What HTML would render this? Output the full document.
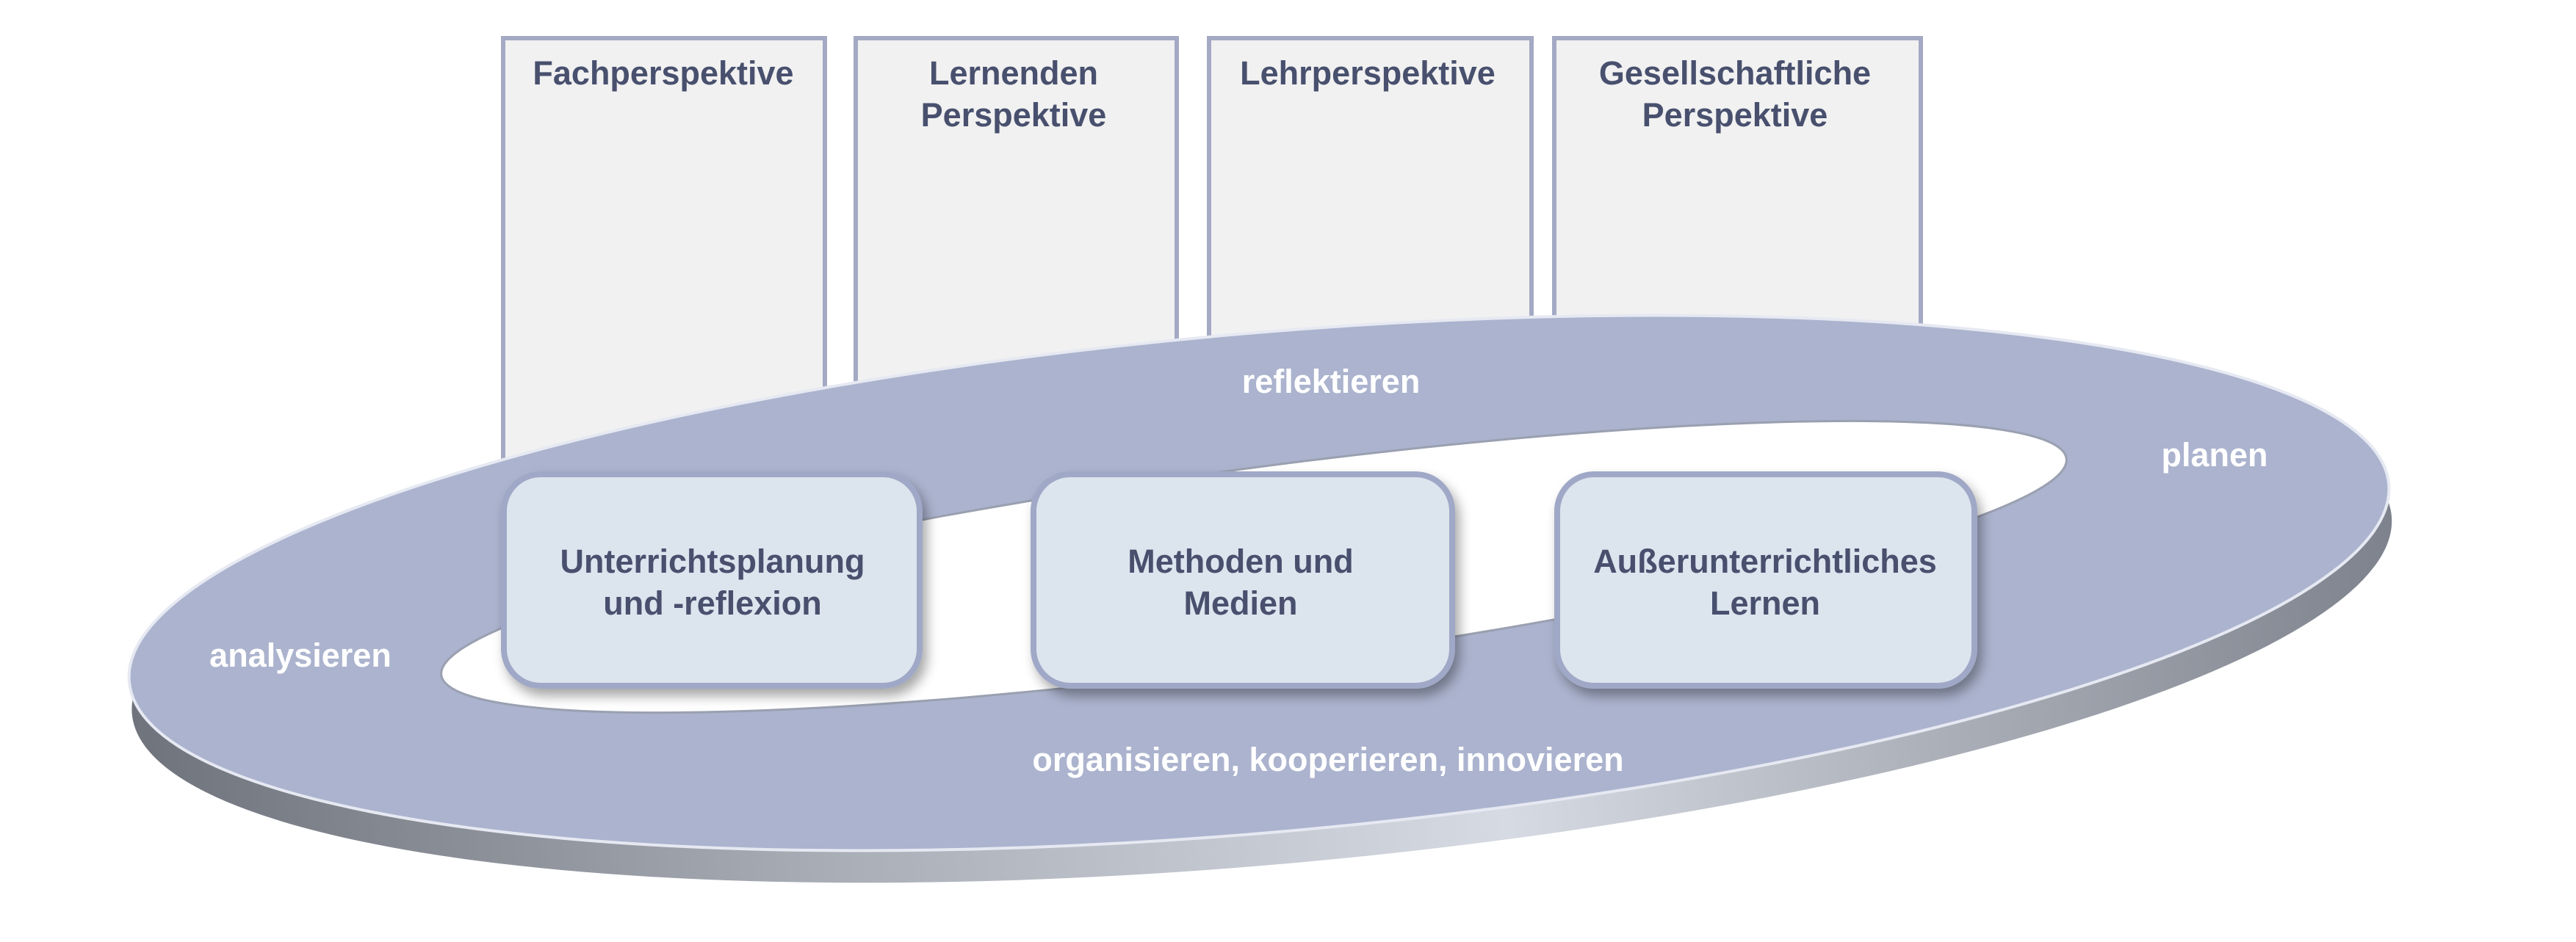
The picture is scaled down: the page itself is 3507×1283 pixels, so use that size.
<!DOCTYPE html>
<html><head><meta charset="utf-8"><style>
html,body{margin:0;padding:0;background:#fff;overflow:hidden;width:3507px;height:1283px}
svg{display:block}
text{font-family:"Liberation Sans",sans-serif;font-weight:bold}
</style></head><body>
<svg width="3507" height="1283" viewBox="0 0 3507 1283" xmlns="http://www.w3.org/2000/svg">
<defs>
<linearGradient id="edge" x1="0" y1="0" x2="1" y2="0">
<stop offset="0" stop-color="#6f737c"/><stop offset="0.3" stop-color="#a9adb6"/><stop offset="0.6" stop-color="#d6dae2"/><stop offset="1" stop-color="#7d828c"/>
</linearGradient>
<filter id="sh" x="-10%" y="-10%" width="125%" height="130%"><feDropShadow dx="6" dy="10" stdDeviation="8" flood-color="#000" flood-opacity="0.35"/></filter>
</defs>
<g fill="#f1f1f1" stroke="#a4a9c4" stroke-width="6">
<rect x="685" y="52" width="438" height="700"/>
<rect x="1165" y="52" width="437" height="700"/>
<rect x="1646" y="52" width="439" height="700"/>
<rect x="2116" y="52" width="499" height="700"/>
</g>
<g fill="#48506e" font-size="45" text-anchor="middle">
<text x="903" y="115">Fachperspektive</text>
<text x="1380" y="115">Lernenden</text><text x="1380" y="172">Perspektive</text>
<text x="1862" y="115">Lehrperspektive</text>
<text x="2362" y="115">Gesellschaftliche</text><text x="2362" y="172">Perspektive</text>
</g>
<g transform="rotate(-5 1714 794)">
<ellipse cx="1714" cy="838" rx="1544" ry="340" fill="url(#edge)"/>
<ellipse cx="1714" cy="794" rx="1544" ry="340" fill="#abb3ce" stroke="#e6e9f2" stroke-width="4"/>
</g>
<g transform="rotate(-7.6 1707 772)">
<ellipse cx="1707" cy="772" rx="1116" ry="134" fill="#fff" stroke="#9aa0b0" stroke-width="3"/>
</g>
<g fill="#fff" font-size="45" text-anchor="middle">
<text x="1812" y="535">reflektieren</text>
<text x="3015" y="635">planen</text>
<text x="409" y="908">analysieren</text>
<text x="1808" y="1050">organisieren, kooperieren, innovieren</text>
</g>
<g fill="#dce4ee" stroke="#9fa8c6" stroke-width="8" filter="url(#sh)">
<rect x="686" y="646" width="566" height="288" rx="50"/>
<rect x="1407" y="646" width="570" height="288" rx="50"/>
<rect x="2120" y="646" width="568" height="288" rx="50"/>
</g>
<g fill="#48506e" font-size="45" text-anchor="middle">
<text x="970" y="780">Unterrichtsplanung</text><text x="970" y="837">und -reflexion</text>
<text x="1689" y="780">Methoden und</text><text x="1689" y="837">Medien</text>
<text x="2403" y="780">Außerunterrichtliches</text><text x="2403" y="837">Lernen</text>
</g>
</svg>
</body></html>
